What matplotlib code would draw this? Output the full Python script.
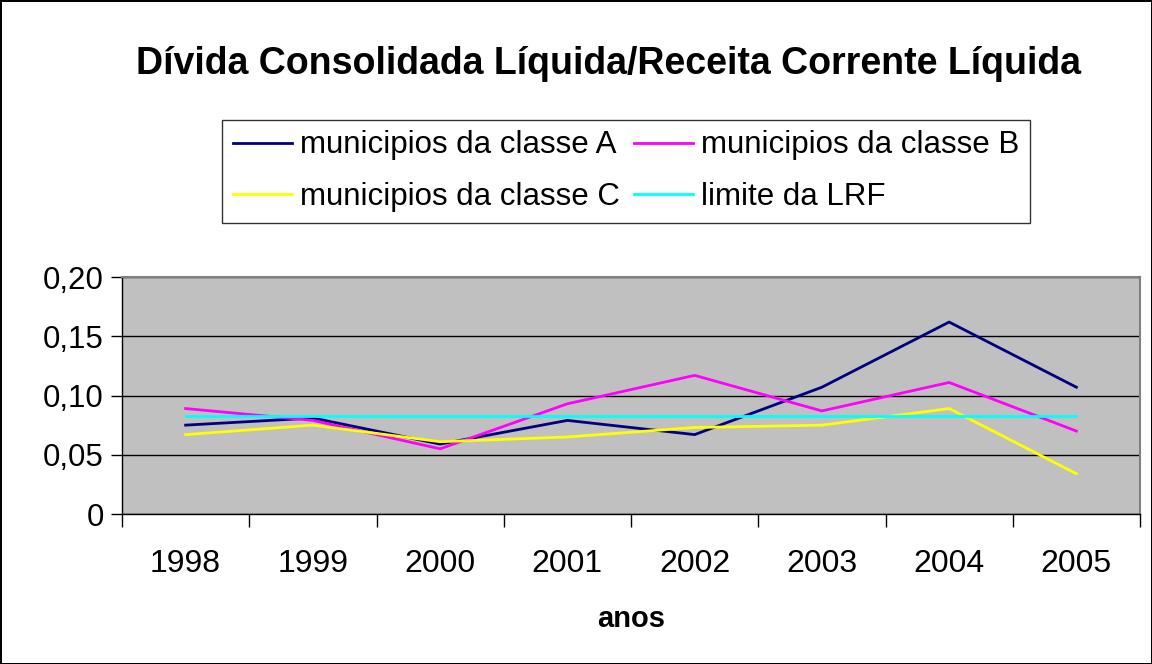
import numpy as np
import matplotlib.pyplot as plt
from matplotlib.ticker import FixedLocator, NullFormatter, FuncFormatter

plt.rcParams['font.family'] = ['Liberation Sans', 'DejaVu Sans']

anos = ['1998', '1999', '2000', '2001', '2002', '2003', '2004', '2005']
classe_a = [0.075, 0.081, 0.059, 0.079, 0.067, 0.107, 0.162, 0.107]
classe_b = [0.089, 0.079, 0.055, 0.093, 0.117, 0.087, 0.111, 0.070]
classe_c = [0.067, 0.075, 0.061, 0.065, 0.073, 0.075, 0.089, 0.034]
limite_lrf = [0.083] * 8

y_ticks = [0, 0.05, 0.10, 0.15, 0.20]


def fmt_y(v, pos):
    if v == 0:
        return '0'
    return f'{v:.2f}'.replace('.', ',')


def draw_chart():
    fig = plt.figure(figsize=(11.52, 6.64), dpi=100)
    fig.patch.set_facecolor('white')
    fig.patch.set_edgecolor('black')
    fig.patch.set_linewidth(2)

    ax = fig.add_axes([0.1059, 0.2259, 0.8837, 0.3569])
    ax.set_facecolor('#C0C0C0')
    x = np.arange(len(anos))

    series = [
        (classe_a, '#000080', 'municipios da classe A'),
        (classe_b, '#FF00FF', 'municipios da classe B'),
        (classe_c, '#FFFF00', 'municipios da classe C'),
        (limite_lrf, '#00FFFF', 'limite da LRF'),
    ]
    lines = []
    for vals, color, label in series:
        ln, = ax.plot(x, vals, color=color, linewidth=2, label=label)
        lines.append(ln)

    ax.set_xlim(-0.5, len(anos) - 0.5)
    ax.set_ylim(0, 0.20)

    # category boundaries as ticks, labels centred between them
    ax.xaxis.set_major_locator(FixedLocator(np.arange(-0.5, len(anos), 1.0)))
    ax.xaxis.set_major_formatter(NullFormatter())
    ax.set_xticks(x, anos, minor=True)
    ax.tick_params(axis='x', which='major', direction='out', length=9, width=1, color='black')
    ax.tick_params(axis='x', which='minor', length=0, pad=25, labelsize=23)

    ax.set_yticks(y_ticks)
    ax.yaxis.set_major_formatter(FuncFormatter(fmt_y))
    ax.tick_params(axis='y', direction='out', length=8, width=1, pad=5, labelsize=22.5)

    ax.grid(axis='y', color='black', linewidth=1)
    ax.set_axisbelow(True)

    for side in ['top', 'right']:
        ax.spines[side].set_color('#808080')
        ax.spines[side].set_linewidth(1.5)
    for side in ['left', 'bottom']:
        ax.spines[side].set_color('black')
        ax.spines[side].set_linewidth(1)

    ax.set_xlabel('anos', fontsize=21, fontweight='bold', labelpad=19)

    fig.text(0.528, 0.904, 'Dívida Consolidada Líquida/Receita Corrente Líquida',
             ha='center', va='center', fontsize=27, fontweight='bold')

    # column-major fill: A, C in first column; B, LRF in second
    order = [lines[0], lines[2], lines[1], lines[3]]
    leg = fig.legend(handles=order, ncol=2, loc='upper left',
                     bbox_to_anchor=(0.193, 0.819), fontsize=22.5,
                     frameon=True, fancybox=False, edgecolor='black',
                     handlelength=1.9, handletextpad=0.25, columnspacing=0.45,
                     labelspacing=0.7, borderpad=0.33, borderaxespad=0)
    leg.get_frame().set_linewidth(1)
    return fig


fig = draw_chart()
fig.savefig('out.png', dpi=100, facecolor=fig.get_facecolor(), edgecolor=fig.get_edgecolor())
